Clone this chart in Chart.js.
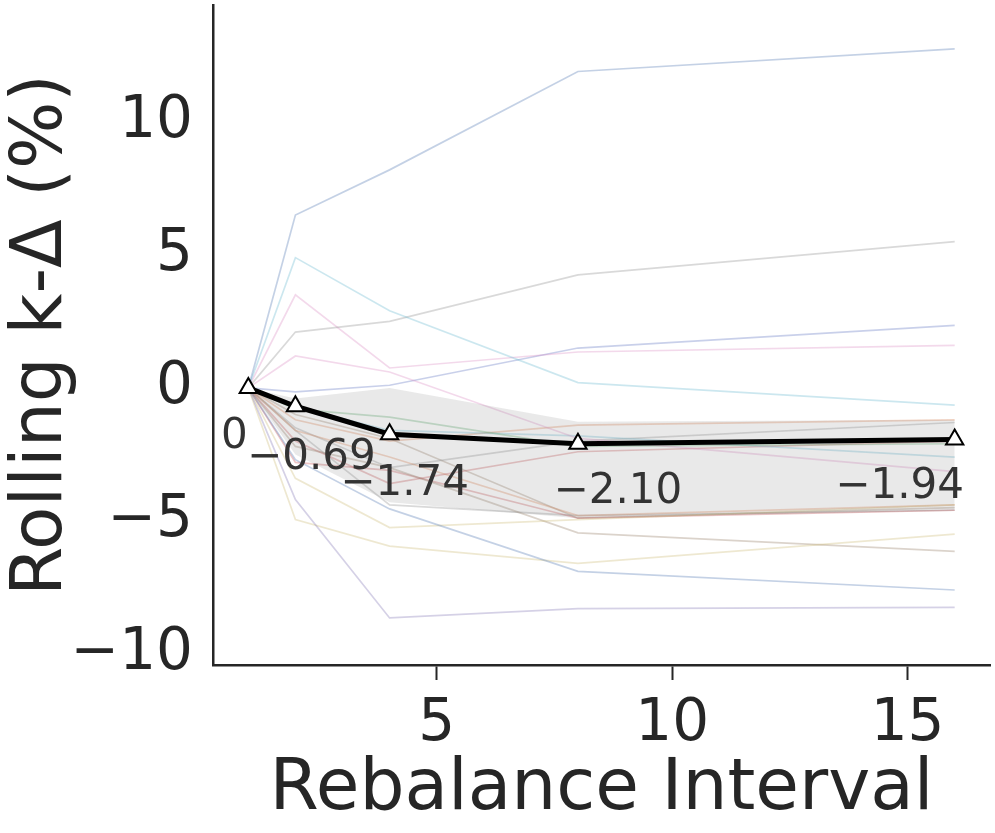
<!DOCTYPE html>
<html>
<head>
<meta charset="utf-8">
<title>Rolling k-Δ vs Rebalance Interval</title>
<script src="https://cdn.jsdelivr.net/npm/chart.js@4.4.1/dist/chart.umd.min.js"></script>
<style>
  html, body { margin: 0; padding: 0; background: #ffffff; }
  #wrap { width: 995px; height: 833px; }
</style>
</head>
<body>
<div id="wrap"><canvas id="myChart" width="995" height="833"></canvas></div>
<script>
'use strict';

// rebalance intervals on the x axis
let intervals = [1, 2, 4, 8, 16];

// faint per-run lines (k-delta in %)
let run1 = [0, 6.5, 8.2, 11.9, 12.75];
let run2 = [0, 4.9, 2.9, 0.2, -0.65];
let run3 = [0, 2.1, 2.5, 4.25, 5.5];
let run4 = [0, 3.5, 0.75, 1.35, 1.6];
let run5 = [0, 1.2, 0.6, -1.9, -3.15];
let run6 = [0, -0.15, 0.1, 1.5, 2.35];
let run7 = [0, -2.7, -4.55, -6.9, -7.6];
let run8 = [0, -4.2, -8.65, -8.3, -8.25];
let run9 = [0, -4.95, -5.95, -6.6, -5.5];
let run10 = [0, -3.4, -5.25, -4.95, -4.4];
let run11 = [0, -2.2, -3.0, -5.45, -6.15];
let run12 = [0, -0.8, -1.1, -2.2, -2.1];
let run13 = [0, -0.7, -1.6, -1.8, -2.6];
let run14 = [0, -1.2, -2.0, -1.4, -1.2];
let run15 = [0, -2.0, -3.6, -2.4, -2.0];
let run16 = [0, -2.8, -3.1, -4.9, -4.6];
let run17 = [0, -1.6, -2.6, -4.8, -4.4];
let run18 = [0, -1.5, -3.0, -2.0, -1.3];
let run19 = [0, -1.0, -1.9, -4.9, -4.5];
let run20 = [0, -1.6, -4.4, -4.8, -4.6];

let runs = [run1, run2, run3, run4, run5, run6, run7, run8, run9, run10,
  run11, run12, run13, run14, run15, run16, run17, run18, run19, run20];

// seaborn "deep" colours, one per run
let runColors = ['#4C72B0', '#64B5CD', '#8C8C8C', '#DA8BC3', '#DA8BC3',
  '#5A6FC0', '#4C72B0', '#8172B3', '#CCB974', '#CCB974',
  '#937860', '#55A868', '#64B5CD', '#DD8452', '#C44E52',
  '#C44E52', '#DD8452', '#8C8C8C', '#937860', '#8C8C8C'];

// mean line and shaded band
let meanValues = [0, -0.69, -1.74, -2.10, -1.94];
let bandUpper = [0, -0.4, 0.0, -1.27, -1.2];
let bandLower = [0, -2.5, -4.3, -4.9, -4.6];

let xTicks = [5, 10, 15];
let yTicks = [-10, -5, 0, 5, 10];

// where each mean label sits relative to its marker (px)
let labelOffsets = [[-14, 49], [16, 52], [15, 50], [40, 48], [-55, 48]];

function minusSign(v) {
  return String(v).replace('-', '\u2212');
}

function hexToRgba(hex, a) {
  let r = parseInt(hex.slice(1, 3), 16);
  let g = parseInt(hex.slice(3, 5), 16);
  let b = parseInt(hex.slice(5, 7), 16);
  return `rgba(${r}, ${g}, ${b}, ${a})`;
}

function toPoints(values) {
  let pts = [];
  for (let i = 0; i < intervals.length; i++) {
    pts.push({ x: intervals[i], y: values[i] });
  }
  return pts;
}

let datasets = [];

datasets.push({
  label: 'mean',
  data: toPoints(meanValues),
  borderColor: '#000000',
  borderWidth: 5,
  pointStyle: 'triangle',
  pointRadius: 10,
  pointBorderWidth: 2,
  pointBorderColor: '#000000',
  pointBackgroundColor: '#ffffff',
  order: 0
});

datasets.push({
  label: 'band upper',
  data: toPoints(bandUpper),
  borderWidth: 0,
  pointRadius: 0,
  backgroundColor: 'rgba(140, 140, 140, 0.19)',
  fill: '+1',
  order: 1
});
datasets.push({
  label: 'band lower',
  data: toPoints(bandLower),
  borderWidth: 0,
  pointRadius: 0,
  fill: false,
  order: 1
});

for (let i = 0; i < runs.length; i++) {
  datasets.push({
    label: 'run ' + (i + 1),
    data: toPoints(runs[i]),
    borderColor: hexToRgba(runColors[i], 0.33),
    borderWidth: 1.7,
    pointRadius: 0,
    fill: false,
    order: 2
  });
}

let meanLabels = {
  id: 'meanLabels',
  afterDatasetsDraw(chart) {
    let ctx = chart.ctx;
    let xs = chart.scales.x;
    let ys = chart.scales.y;
    ctx.save();
    ctx.font = '42px "DejaVu Sans"';
    ctx.fillStyle = '#333333';
    ctx.textAlign = 'center';
    ctx.textBaseline = 'middle';
    for (let i = 0; i < meanValues.length; i++) {
      let txt = meanValues[i] === 0 ? '0' : minusSign(meanValues[i].toFixed(2));
      let px = xs.getPixelForValue(intervals[i]) + labelOffsets[i][0];
      let py = ys.getPixelForValue(meanValues[i]) + labelOffsets[i][1];
      ctx.fillText(txt, px, py);
    }
    ctx.restore();
  }
};

const config = {
  type: 'line',
  data: { datasets: datasets },
  options: {
    responsive: false,
    animation: false,
    devicePixelRatio: 1,
    layout: { autoPadding: false, padding: { top: 5, right: 5, left: 0, bottom: 0 } },
    plugins: {
      legend: { display: false },
      tooltip: { enabled: false }
    },
    elements: { line: { tension: 0 } },
    scales: {
      x: {
        type: 'linear',
        min: 0.25,
        max: 16.75,
        afterBuildTicks(scale) {
          scale.ticks = xTicks.map(v => ({ value: v }));
        },
        afterFit(scale) {
          scale.height = 168;
          scale.paddingLeft = 0;
          scale.paddingRight = 0;
        },
        border: { display: true, color: '#262626', width: 2.5 },
        grid: {
          display: true,
          drawOnChartArea: false,
          drawTicks: true,
          tickLength: 15,
          tickWidth: 2,
          tickColor: '#262626'
        },
        ticks: {
          color: '#262626',
          font: { family: 'DejaVu Sans', size: 58 },
          padding: 10,
          maxRotation: 0,
          callback: v => minusSign(v)
        },
        title: {
          display: true,
          text: 'Rebalance Interval',
          color: '#262626',
          font: { family: 'DejaVu Sans', size: 71 },
          padding: { top: -8, bottom: 0 }
        }
      },
      y: {
        type: 'linear',
        min: -10.42,
        max: 14.4,
        afterBuildTicks(scale) {
          scale.ticks = yTicks.map(v => ({ value: v }));
        },
        afterFit(scale) {
          scale.width = 213;
          scale.paddingTop = 0;
          scale.paddingBottom = 0;
        },
        border: { display: true, color: '#262626', width: 2.5 },
        grid: { display: false, drawTicks: false },
        ticks: {
          color: '#262626',
          font: { family: 'DejaVu Sans', size: 58 },
          padding: 20,
          callback: v => minusSign(v)
        },
        title: {
          display: true,
          text: 'Rolling k-Δ (%)',
          color: '#262626',
          font: { family: 'DejaVu Sans', size: 71 },
          padding: { top: 0, bottom: 0 }
        }
      }
    }
  },
  plugins: [meanLabels]
};

const myChart = new Chart(document.getElementById('myChart'), config);
</script>
</body>
</html>
